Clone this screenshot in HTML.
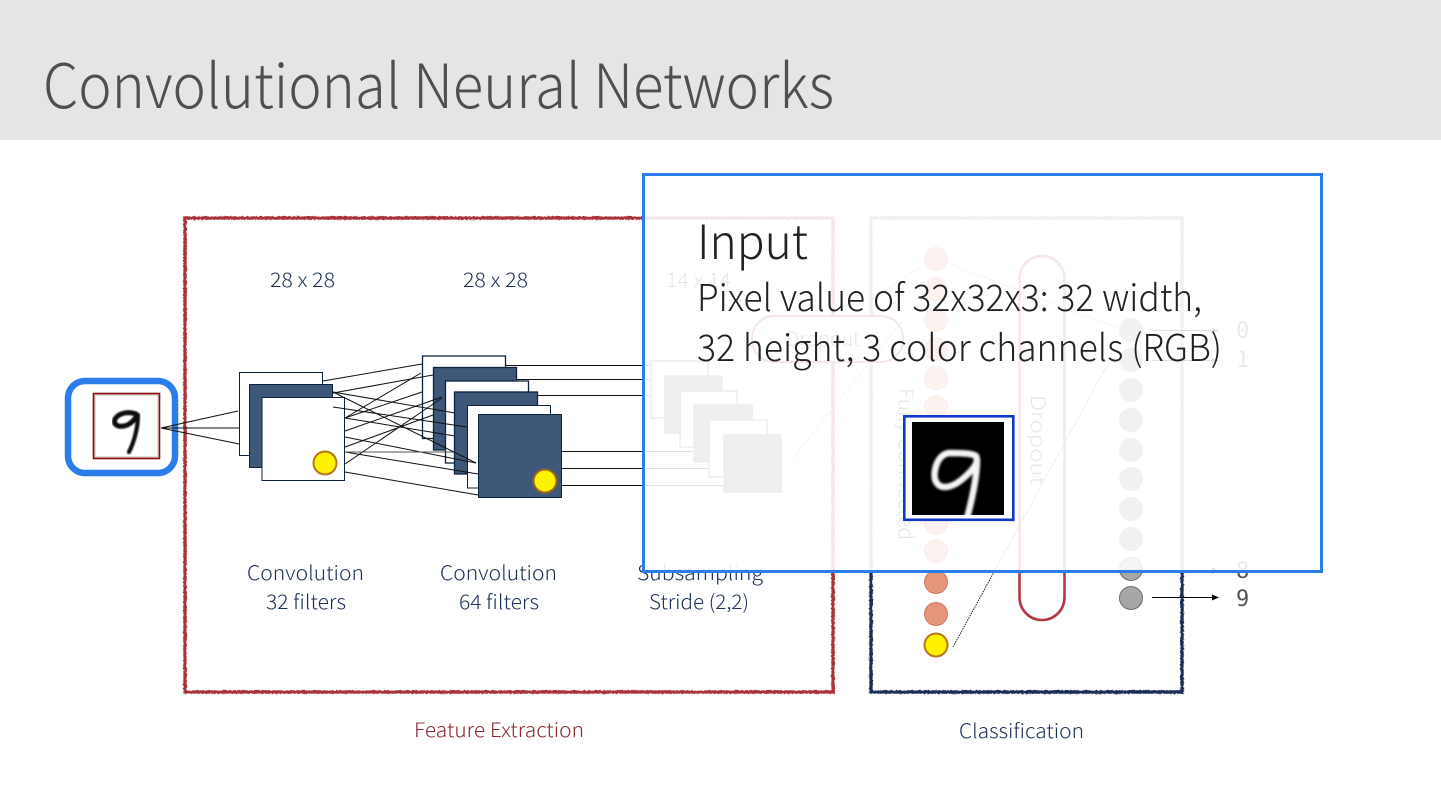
<!DOCTYPE html>
<html>
<head>
<meta charset="utf-8">
<style>
html,body{margin:0;padding:0;background:#fff;width:1441px;height:809px;overflow:hidden}
svg{display:block}
text{font-family:"Noto Sans CJK JP","Liberation Sans",sans-serif;font-weight:300}
.mono{font-family:"DejaVu Sans Mono","Liberation Mono",monospace;font-weight:400}
.n{fill:#1c3158;font-size:20px}
</style>
</head>
<body>
<svg width="1441" height="809" viewBox="0 0 1441 809" xmlns="http://www.w3.org/2000/svg">
<defs>
<filter id="rough" x="-5%" y="-5%" width="110%" height="110%"><feTurbulence type="fractalNoise" baseFrequency="0.5" numOctaves="2" seed="3"/><feDisplacementMap in="SourceGraphic" scale="2.4"/></filter>
<filter id="b1"><feGaussianBlur stdDeviation="1.1"/></filter>
<filter id="b2"><feGaussianBlur stdDeviation="0.9"/></filter>
<marker id="ah" markerWidth="7" markerHeight="6" refX="6" refY="3" orient="auto" markerUnits="userSpaceOnUse"><path d="M0 0L7 3L0 6z" fill="#000"/></marker>
<clipPath id="cp"><rect x="912" y="422" width="92" height="93"/></clipPath>
</defs>

<rect width="1441" height="809" fill="#fff"/>
<rect width="1441" height="140" fill="#e5e5e5"/>
<text x="43" y="108" font-size="61" fill="#4f4f4f" textLength="791" lengthAdjust="spacingAndGlyphs">Convolutional Neural Networks</text>

<!-- containers -->
<rect x="185" y="218" width="648" height="474" fill="none" stroke="#a9323a" stroke-width="3.4" filter="url(#rough)"/>
<path d="M871 572V218H1182V572" fill="none" stroke="#8f7f82" stroke-width="3.4" filter="url(#rough)"/>
<path d="M871 570V692H1182V570" fill="none" stroke="#1c2f57" stroke-width="3.4" filter="url(#rough)"/>

<!-- size labels -->
<text class="n" x="270" y="287" textLength="65" lengthAdjust="spacingAndGlyphs">28 x 28</text>
<text class="n" x="463" y="287" textLength="65" lengthAdjust="spacingAndGlyphs">28 x 28</text>
<text class="n" x="666" y="287" textLength="65" lengthAdjust="spacingAndGlyphs">14 x 14</text>

<!-- input image -->
<rect x="93.500" y="393.500" width="66" height="65" fill="#fff" stroke="#8b0a0a" stroke-width="1.600"/>
<rect x="95" y="395" width="63" height="62" fill="none" stroke="#b9a9a0" stroke-width=".8"/>
<g filter="url(#b2)" fill="none" stroke="#0b0b0b" stroke-linecap="round" stroke-linejoin="round">
<path stroke-width="5" d="M136 414C128 411 119 413 115 419C113 425 118 427 124 426C130 425 134 420 137 416"/>
<path stroke-width="4.200" d="M138 415C138 428 134 442 129 452"/>
</g>
<rect x="68" y="381" width="107" height="92" rx="17" ry="17" fill="none" stroke="#2b7de9" stroke-width="6.500"/>

<!-- fan from input -->
<g stroke="#111" stroke-width="1" fill="none">
<path d="M161 428L238 411M161 428L249 428M161 428L249 446"/>
</g>

<!-- conv 1 -->
<g stroke="#0c2340" stroke-width="1">
<rect x="239.500" y="372.500" width="83" height="83" fill="#fff"/>
<rect x="249.500" y="384.500" width="83" height="83" fill="#3f5779"/>
<rect x="262" y="397.500" width="82.500" height="83" fill="#fff"/>
</g>
<circle cx="325" cy="463" r="11.500" fill="#fff200" stroke="#b8761a" stroke-width="2"/>

<!-- conv 2 -->
<g stroke="#0c2340" stroke-width="1">
<rect x="422.500" y="356" width="83" height="82.500" fill="#fff" stroke-width="1.300"/>
<rect x="433.500" y="367.500" width="83" height="82.500" fill="#3f5779" stroke-width="1.300"/>
<rect x="445.500" y="381" width="83" height="82" fill="#fff" stroke-width="1.300"/>
<rect x="454.500" y="392" width="83" height="82" fill="#3f5779" stroke-width="1.300"/>
<rect x="467.500" y="405.500" width="83" height="82.500" fill="#fff"/>
</g>

<!-- conv1 to conv2 connectors -->
<g stroke="#111" stroke-width="1" fill="none">
<path d="M323 381L422 364"/>
<path d="M333 393L433 375"/>
<path d="M345 418L421 373"/>
<path d="M345 418L422 392"/>
<path d="M345 431L442 397"/>
<path d="M345 447L433 415"/>
<path d="M345 464L442 398"/>
<path d="M333 392L455 413"/>
<path d="M333 407L467 427"/>
<path d="M345 418L455 436"/>
<path d="M345 437L476 463"/>
<path d="M345 452L478 474"/>
<path d="M345 472L478 495"/>
<path d="M345 452L455 452" stroke="#555"/>
<path d="M333 392L476 463"/>
</g>

<rect x="478.500" y="414.500" width="83" height="83" fill="#3f5779" stroke="#0c2340" stroke-width="1"/>
<circle cx="545" cy="481" r="11.500" fill="#fff200" stroke="#9c6a14" stroke-width="2"/>

<!-- conv2 to subsampling -->
<g stroke="#111" stroke-width="1" fill="none">
<path d="M506 365.500H651M516 379.500H665M538 395.500H680M562 451.500H724M562 468.500H724M562 485.500H724"/>
</g>

<!-- subsampling -->
<g stroke="#777" stroke-width="1.500">
<rect x="651" y="361" width="57" height="57" fill="#fff"/>
<rect x="665" y="376" width="57" height="57" fill="#7f7f7f"/>
<rect x="680" y="391" width="57" height="56" fill="#fff"/>
<rect x="694" y="405" width="58" height="57" fill="#7f7f7f"/>
<rect x="709" y="420" width="58" height="57" fill="#fff"/>
<rect x="724" y="435" width="57" height="57" fill="#7f7f7f"/>
</g>

<!-- labels under layers -->
<text class="n" x="247" y="580" textLength="117" lengthAdjust="spacingAndGlyphs">Convolution</text>
<text class="n" x="266" y="609" textLength="80" lengthAdjust="spacingAndGlyphs">32 filters</text>
<text class="n" x="440" y="580" textLength="117" lengthAdjust="spacingAndGlyphs">Convolution</text>
<text class="n" x="459" y="609" textLength="80" lengthAdjust="spacingAndGlyphs">64 filters</text>
<text class="n" x="637" y="580" textLength="126" lengthAdjust="spacingAndGlyphs">Subsampling</text>
<text class="n" x="649" y="609" textLength="100" lengthAdjust="spacingAndGlyphs">Stride (2,2)</text>
<text x="414" y="737" font-size="20" fill="#8a2a30" textLength="170" lengthAdjust="spacingAndGlyphs">Feature Extraction</text>
<text x="959" y="738" font-size="20" fill="#1c3158" textLength="125" lengthAdjust="spacingAndGlyphs">Classification</text>

<!-- flatten pill -->
<rect x="752" y="316" width="151" height="46" rx="22" fill="#fff" stroke="#a9323a" stroke-width="2"/>
<text x="786" y="346" font-size="20" fill="#1f3864" textLength="74" lengthAdjust="spacingAndGlyphs">Dropout</text>
<path d="M790 462L903 320" stroke="#aaa" stroke-width="1" fill="none"/>

<!-- fully connected -->
<text transform="translate(899,388) rotate(90)" font-size="20" fill="#1f3864" textLength="152" lengthAdjust="spacingAndGlyphs">Fully Connected</text>
<g fill="#e5967a" stroke="#c77a60" stroke-width="1">
<circle cx="936" cy="259" r="11.500"/>
<circle cx="936" cy="289" r="11.500"/>
<circle cx="936" cy="320" r="11.500"/>
<circle cx="936" cy="349" r="11.500"/>
<circle cx="936" cy="378" r="11.500"/>
<circle cx="936" cy="407" r="11.500"/>
<circle cx="936" cy="436" r="11.500"/>
<circle cx="936" cy="465" r="11.500"/>
<circle cx="936" cy="494" r="11.500"/>
<circle cx="936" cy="523" r="11.500"/>
<circle cx="936" cy="551" r="11.500"/>
<circle cx="936" cy="582" r="11.500"/>
<circle cx="936" cy="614" r="11.500"/>
</g>
<circle cx="936" cy="645" r="11.500" fill="#fff200" stroke="#b8761a" stroke-width="2"/>
<g stroke="#aaa" stroke-width="1" fill="none">
<path d="M872 300L924 264M948 263L1115 327"/>
</g>
<path d="M953 647L1110 360" stroke="#222" stroke-width="1" stroke-dasharray="1.500 1" fill="none"/>

<!-- dropout pill -->
<rect x="1019.500" y="256" width="45" height="364" rx="22.500" fill="none" stroke="#b03a40" stroke-width="2.600"/>
<text transform="translate(1031,395) rotate(90)" font-size="20" fill="#1f3864" textLength="90" lengthAdjust="spacingAndGlyphs">Dropout</text>

<!-- outputs -->
<g fill="#8f8f8f" stroke="#8f8f8f" stroke-width="1">
<circle cx="1131" cy="330" r="11.500"/>
<circle cx="1131" cy="360" r="11.500"/>
<circle cx="1131" cy="390" r="11.500"/>
<circle cx="1131" cy="420" r="11.500"/>
<circle cx="1131" cy="450" r="11.500"/>
<circle cx="1131" cy="479" r="11.500"/>
<circle cx="1131" cy="509" r="11.500"/>
<circle cx="1131" cy="539" r="11.500"/>
</g>
<g fill="#a6a6a6" stroke="#6e6e6e" stroke-width="1">
<circle cx="1131" cy="569" r="11.500"/>
<circle cx="1131" cy="598" r="11.500"/>
</g>
<g stroke="#000" stroke-width="1" fill="none">
<path d="M1152 330.500H1218" marker-end="url(#ah)"/>
<path d="M1152 360.500H1218" marker-end="url(#ah)"/>
<path d="M1152 570.500H1218" marker-end="url(#ah)"/>
<path d="M1152 597.500H1218" marker-end="url(#ah)"/>
</g>
<g fill="#555" font-size="22">
<text class="mono" x="1236" y="338">0</text>
<text class="mono" x="1236" y="367">1</text>
<text class="mono" x="1236" y="578">8</text>
<text class="mono" x="1236" y="606">9</text>
</g>

<!-- overlay card -->
<rect x="643.500" y="174.500" width="678" height="397" fill="#fff" fill-opacity=".88" stroke="#2b7de9" stroke-width="3"/>
<text x="697" y="259" font-size="47.500" fill="#222" textLength="111" lengthAdjust="spacingAndGlyphs">Input</text>
<text x="697" y="311" font-size="37" fill="#222" textLength="505" lengthAdjust="spacingAndGlyphs">Pixel value of 32x32x3: 32 width,</text>
<text x="697" y="361" font-size="37" fill="#222" textLength="525" lengthAdjust="spacingAndGlyphs">32 height, 3 color channels (RGB)</text>

<!-- large MNIST thumbnail -->
<rect x="904.300" y="416.300" width="109" height="103.500" fill="#fff" stroke="#1138c8" stroke-width="2.600"/>
<rect x="912" y="422" width="92" height="93" fill="#000"/>
<g clip-path="url(#cp)">
<g filter="url(#b1)" fill="none" stroke="#f4f4f4" stroke-linecap="round" stroke-linejoin="round">
<path stroke-width="6.500" d="M949 453C942 454 937 460 935 470C933 480 937 487 945 487C953 487 962 480 968 474C974 468 979 462 976 456C972 453 958 453 949 453Z"/>
<path stroke-width="6.500" d="M977 460C977 475 974 492 967 518"/>
</g>
</g>
</svg>
</body>
</html>
